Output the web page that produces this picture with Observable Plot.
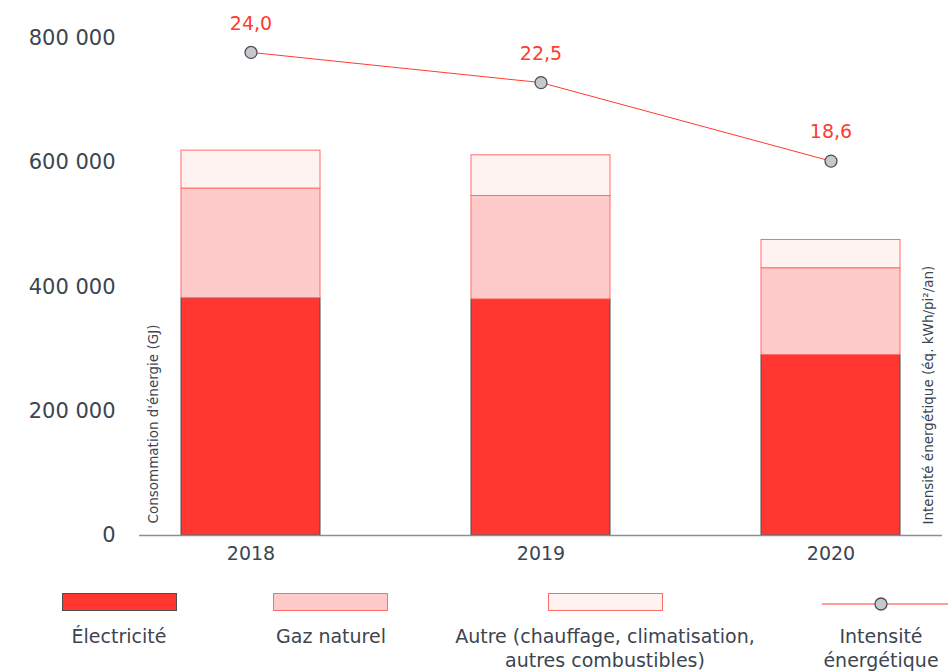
<!DOCTYPE html>
<html>
<head>
<meta charset="utf-8">
<script src="https://cdn.jsdelivr.net/npm/d3@7"></script>
<script src="https://cdn.jsdelivr.net/npm/@observablehq/plot@0.6"></script>
<style>
  body { margin: 0; background: #fff; }
  #wrap { width: 948px; font-family: "DejaVu Sans", sans-serif; }
  #legend { position: relative; width: 948px; height: 92px; color: #3c4550; font-size: 19px; }
  .sw { position: absolute; top: 13px; width: 113px; height: 16px; border: 1px solid; }
  .lt { position: absolute; top: 44px; transform: translateX(-50%); text-align: center; line-height: 24px; white-space: nowrap; }
</style>
</head>
<body>
<div id="wrap"><div id="chart"></div><div id="legend"></div></div>
<script>
// ---- data ----
const years = ["2018", "2019", "2020"];
const seriesNames = ["Électricité", "Gaz naturel", "Autre (chauffage, climatisation,\nautres combustibles)"];
const electricite = [382000, 380000, 290500];
const gazNaturel = [176500, 166500, 139700];
const autre = [61000, 65500, 45500];
const intensite = [24.0, 22.5, 18.6];
const intensiteLabel = "Intensité\nénergétique";
const yTicks = [0, 200000, 400000, 600000, 800000];
const yLabel = "Consommation d'énergie (GJ)";
const y2Label = "Intensité énergétique (éq. kWh/pi²/an)";
const intensityToGJ = 32400; // secondary-axis conversion factor

// ---- styling ----
const fills = ["#ff3730", "#ffcbca", "#fff3f2"];
const strokes = ["#4d4f52", "#ff6d68", "#ff6d68"];
const red = "#ff3b30";
const ink = "#3c4550";

const seriesValues = [electricite, gazNaturel, autre];
const stacked = [];
seriesValues.forEach((vals, s) => years.forEach((yr, i) => stacked.push({year: yr, s, value: vals[i]})));
const line = years.map((yr, i) => ({year: yr, v: intensite[i]}));

const plot = Plot.plot({
  width: 948,
  height: 580,
  marginTop: 38,
  marginBottom: 45,
  marginLeft: 139,
  marginRight: 6,
  style: {fontFamily: "DejaVu Sans, sans-serif", color: ink, background: "#fff"},
  x: {domain: years, paddingInner: 0.52, paddingOuter: 0.14},
  y: {domain: [0, 800000]},
  color: {type: "identity"},
  marks: [
    Plot.axisX({label: null, tickSize: 0, tickPadding: 11, fontSize: 19, fill: ink}),
    Plot.axisY({ticks: yTicks, label: null, tickSize: 0, tickPadding: 24, fontSize: 21, fill: ink,
      tickFormat: d => d3.format(",")(d).replace(/,/g, " ")}),
    Plot.barY(stacked, Plot.stackY({x: "year", y: "value", z: "s", order: null,
      fill: d => fills[d.s], stroke: d => strokes[d.s], strokeWidth: 1})),
    Plot.ruleY([0], {stroke: "#8a8f96", strokeWidth: 1.5}),
    Plot.line(line, {x: "year", y: d => d.v * intensityToGJ, stroke: red, strokeWidth: 1}),
    Plot.dot(line, {x: "year", y: d => d.v * intensityToGJ, r: 6, fill: "#c6c8cb", stroke: "#4a5058", strokeWidth: 1.3}),
    Plot.text(line, {x: "year", y: d => d.v * intensityToGJ, text: d => d.v.toFixed(1).replace(".", ","),
      dy: -29, fill: red, fontSize: 19}),
    Plot.text([yLabel], {frameAnchor: "bottom-left", rotate: -90, textAnchor: "start", lineAnchor: "middle",
      dx: 14, dy: -12, fontSize: 13.5, fill: ink}),
    Plot.text([y2Label], {frameAnchor: "bottom-right", rotate: -90, textAnchor: "start", lineAnchor: "middle",
      dx: -14, dy: -11, fontSize: 13.5, fill: ink})
  ]
});
document.getElementById("chart").appendChild(plot);

// ---- legend ----
const legend = document.getElementById("legend");
const swLeft = [62, 273, 548];
const txtCenter = [119, 331, 605];
seriesNames.forEach((name, i) => {
  const sw = document.createElement("div");
  sw.className = "sw";
  sw.style.left = swLeft[i] + "px";
  sw.style.background = fills[i];
  sw.style.borderColor = strokes[i];
  legend.appendChild(sw);
  const t = document.createElement("div");
  t.className = "lt";
  t.style.left = txtCenter[i] + "px";
  t.innerHTML = name.split("\n").join("<br>");
  legend.appendChild(t);
});
const ls = document.createElementNS("http://www.w3.org/2000/svg", "svg");
ls.setAttribute("width", 126); ls.setAttribute("height", 20);
ls.style.position = "absolute"; ls.style.left = "822px"; ls.style.top = "14px";
ls.innerHTML = `<line x1="0" x2="126" y1="10" y2="10" stroke="${red}" stroke-width="1"/>
<circle cx="59" cy="10" r="6" fill="#c6c8cb" stroke="#4a5058" stroke-width="1.3"/>`;
legend.appendChild(ls);
const lt = document.createElement("div");
lt.className = "lt";
lt.style.left = "881px";
lt.innerHTML = intensiteLabel.split("\n").join("<br>");
legend.appendChild(lt);
</script>
</body>
</html>
